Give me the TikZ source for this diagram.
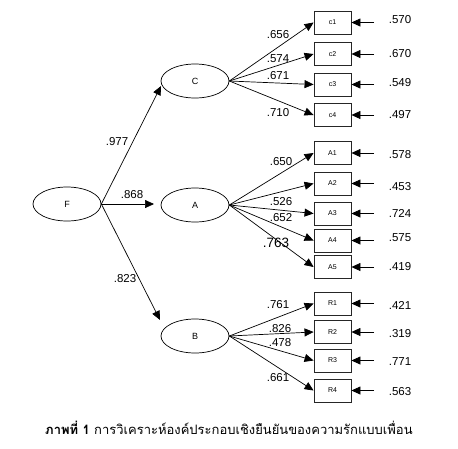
\documentclass[tikz,border=0pt]{standalone}
\usepackage{fontspec}
\setmainfont{Liberation Sans}
\newfontfamily\thaifont[Script=Thai]{Loma}
\usetikzlibrary{arrows.meta,shapes.geometric}
\begin{document}
\begin{tikzpicture}[x=1pt,y=-1pt,
  lat/.style={ellipse, draw, line width=0.7pt, minimum width=68pt, minimum height=34pt, inner sep=0pt, font=\fontsize{9}{10}\selectfont},
  obs/.style={draw=black!85, line width=0.9pt, minimum width=37pt, minimum height=23pt, inner sep=0pt, font=\fontsize{7}{8}\selectfont},
  pth/.style={-{Triangle[length=9pt,width=8pt]}, line width=0.7pt},
  lbl/.style={font=\fontsize{11.5}{12}\selectfont, inner sep=0pt}]
\useasboundingbox (0,0) rectangle (458,448);
% latent variables
\node[lat] (F) at (67,204) {F};
\node[lat] (C) at (195,81) {C};
\node[lat] (A) at (195,205) {A};
\node[lat] (B) at (195,336) {B};
\coordinate (tC) at (161,86);
\coordinate (tA) at (154,204);
\coordinate (tB) at (160,320);
\draw[pth] (F.east) -- (tC);
\draw[pth] (F.east) -- (tA);
\draw[pth] (F.east) -- (tB);
\node[lbl] (lC) at (117,142) {.977};
\node[lbl] (lA) at (132,195) {.868};
\node[lbl] (lB) at (125,279) {.823};
% observed
\foreach \n/\t/\y/\e/\ey/\lx/\ly/\lv in {
  c1/c1/22.5/.570/20/278/35/.656,
  c2/c2/54/.670/54/278/59/.574,
  c3/c3/84.5/.549/83/278/76/.671,
  c4/c4/115/.497/115/278/113/.710}{
  \node[obs] (\n) at (332.5,\y) {\t};
  \coordinate (e\n) at (374,\y);
  \node[lbl] (v\n) at (400,\ey) {\e};
  \draw[pth] (e\n) -- (\n.east);
  \draw[pth] (C.east) -- (\n.west);
  \node[lbl] (l\n) at (\lx,\ly) {\lv};
}
\foreach \n/\t/\y/\e/\ey in {
  a1/A1/153/.578/155, a2/A2/183.5/.453/187, a3/A3/213.5/.724/213,
  a4/A4/240.5/.575/238, a5/A5/267/.419/267}{
  \node[obs] (\n) at (332.5,\y) {\t};
  \coordinate (e\n) at (374,\y);
  \node[lbl] (v\n) at (400,\ey) {\e};
  \draw[pth] (e\n) -- (\n.east);
  \draw[pth] (A.east) -- (\n.west);
}
\node[lbl] (la1) at (281,162) {.650};
\node[lbl] (la3) at (281,202) {.526};
\node[lbl] (la4) at (281,218) {.652};
\node[lbl, font=\fontsize{13.5}{14}\selectfont] (la5) at (276,243) {.763};
\foreach \n/\t/\y/\e/\ey/\lx/\ly/\lv in {
  r1/R1/303.5/.421/305/278/305/.761,
  r2/R2/332/.319/334/280/329/.826,
  r3/R3/360.5/.771/362/280/343/.478,
  r4/R4/390.5/.563/392/278/378/.661}{
  \node[obs] (\n) at (332.5,\y) {\t};
  \coordinate (e\n) at (374,\y);
  \node[lbl] (v\n) at (400,\ey) {\e};
  \draw[pth] (e\n) -- (\n.east);
  \draw[pth] (B.east) -- (\n.west);
  \node[lbl] (l\n) at (\lx,\ly) {\lv};
}
% caption
\node[anchor=west, inner sep=0pt, font=\thaifont\fontsize{13}{15}\selectfont] (cap) at (45,428)
  {\textbf{ภาพที่ 1} การวิเคราะห์องค์ประกอบเชิงยืนยันของความรักแบบเพื่อน};
\end{tikzpicture}
\end{document}
